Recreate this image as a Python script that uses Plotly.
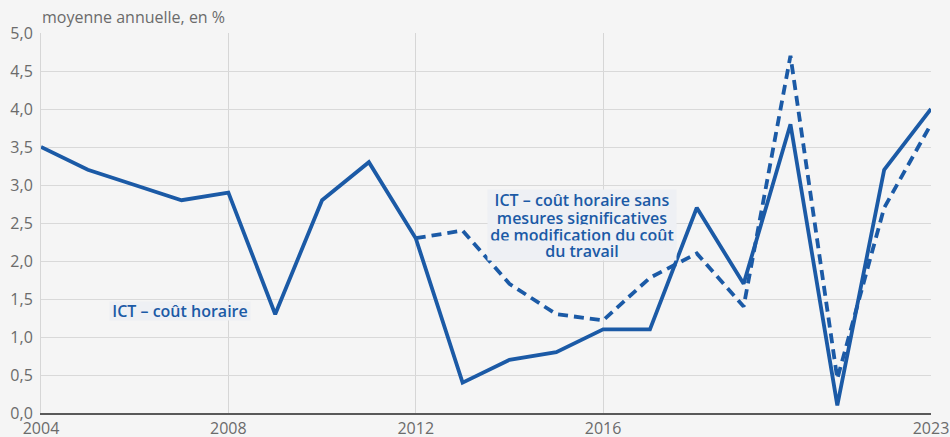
import plotly.graph_objects as go

years = list(range(2004, 2024))
ict_horaire = [3.5, 3.2, 3.0, 2.8, 2.9, 1.3, 2.8, 3.3, 2.3, 0.4, 0.7, 0.8, 1.1, 1.1, 2.7, 1.7, 3.8, 0.1, 3.2, 4.0]
years_sans = list(range(2012, 2024))
ict_sans_mesures = [2.3, 2.4, 1.7, 1.3, 1.22, 1.78, 2.1, 1.4, 4.7, 0.45, 2.7, 3.8]

x_ticks = [2004, 2008, 2012, 2016, 2023]
y_ticks = [0, 0.5, 1, 1.5, 2, 2.5, 3, 3.5, 4, 4.5, 5]

label_horaire = "ICT – coût horaire"
label_sans_lines = ["ICT – coût horaire sans", "mesures significatives",
                    "de modification du coût", "du travail"]

blue = "#1b5aa6"
grey_txt = "#6b6b6b"
bg = "#f5f5f5"
box_bg = "#eef0f4"

fig = go.Figure()
fig.add_trace(go.Scatter(x=years_sans, y=ict_sans_mesures, mode="lines",
                         line=dict(color=blue, width=3.8, dash="10px,6px"),
                         hoverinfo="skip", showlegend=False))
fig.add_trace(go.Scatter(x=years, y=ict_horaire, mode="lines",
                         line=dict(color=blue, width=3.8),
                         hoverinfo="skip", showlegend=False))

ann_font = dict(family="Open Sans", size=16, color=blue, weight=600)
fig.add_annotation(x=2006.96, y=1.336, text=label_horaire, showarrow=False,
                   font=ann_font, bgcolor=box_bg, borderpad=0, width=140, height=18)

for yv, txt in zip([2.803, 2.579, 2.355, 2.132], label_sans_lines):
    fig.add_annotation(x=2015.54, y=yv, text=txt, showarrow=False, font=ann_font,
                       bgcolor=box_bg, borderpad=1, width=186, height=17)

fig.update_layout(
    width=950, height=437,
    margin=dict(l=41, r=19, t=33, b=24, autoexpand=False),
    paper_bgcolor=bg, plot_bgcolor=bg,
    separators=", ",
    font=dict(family="Open Sans", size=16, color=grey_txt),
    title=dict(text="moyenne annuelle, en %", x=42 / 950, xref="container", xanchor="left",
               y=1 - 17 / 437, yref="container", yanchor="middle",
               font=dict(family="Open Sans", size=16, color=grey_txt)),
    xaxis=dict(range=[2004, 2023], tickvals=x_ticks, ticktext=[str(v) for v in x_ticks],
               showgrid=True, gridcolor="#d6d6d6", gridwidth=1,
               showline=True, linecolor="#595959", linewidth=1.5,
               ticks="", zeroline=False, automargin=False,
               tickfont=dict(size=16, color=grey_txt)),
    yaxis=dict(range=[0, 5], tickvals=y_ticks, tickformat=".1f",
               showgrid=True, gridcolor="#d9d9d9", gridwidth=1,
               showline=True, linecolor="#d6d6d6", linewidth=1,
               ticks="", zeroline=False, ticklabelstandoff=4, automargin=False,
               tickfont=dict(size=16, color=grey_txt)),
)

fig.write_html("out.html", config={"displayModeBar": False},
               post_script="document.body.style.margin='0';document.body.style.overflow='hidden';")
